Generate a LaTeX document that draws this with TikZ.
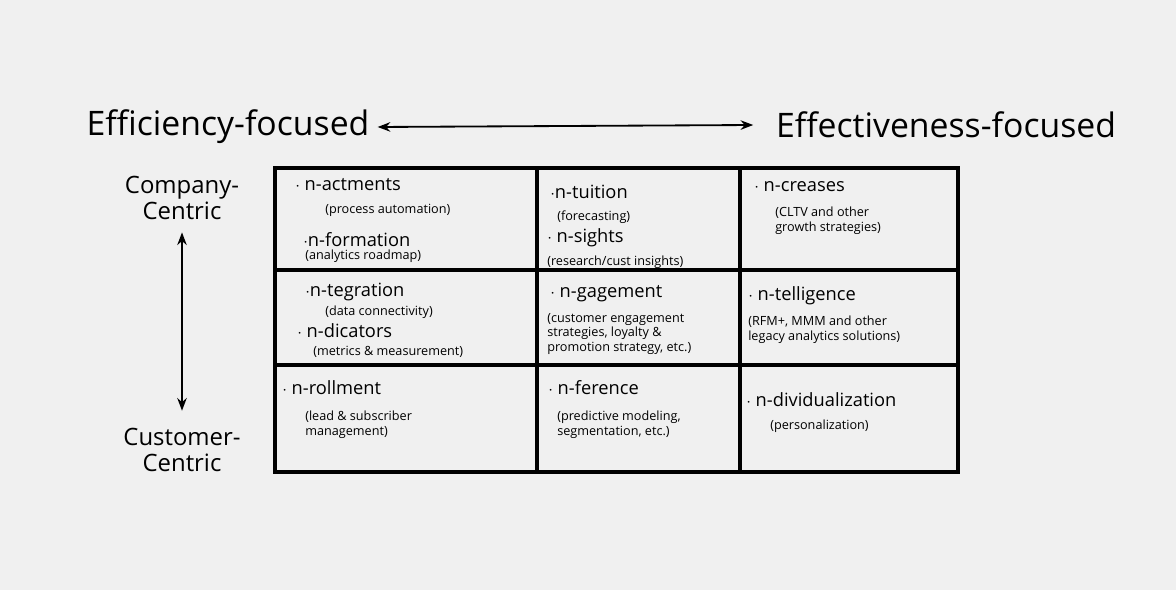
\documentclass[tikz,border=0pt]{standalone}
\usepackage{fontspec}
\setmainfont{Open Sans}
\usetikzlibrary{arrows.meta}
\tikzset{
  head/.style={font=\fontsize{24}{26}\selectfont, inner sep=0pt},
  side/.style={font=\fontsize{17}{19}\selectfont, inner sep=0pt, align=center},
  item/.style={font=\fontsize{13}{14}\selectfont, inner sep=0pt, anchor=west},
  note/.style={font=\fontsize{9}{10.5}\selectfont, inner sep=0pt, anchor=west, align=left},
  grid/.style={line width=2.2pt},
  twoway/.style={line width=1.3pt, {Stealth[length=9pt]}-{Stealth[length=9pt]}}
}
\begin{document}
\begin{tikzpicture}[x=0.025cm, y=-0.025cm]
  \fill[gray!12] (0, 0) rectangle (1176, 590);
  \useasboundingbox (0, 0) rectangle (1176, 590);

  % headings
  \node[head] (eff) at (228, 127) {Efficiency-focused};
  \node[head] (effv) at (946, 125) {Effectiveness-focused};
  \draw[twoway] (eff.east) ++(8, 0) coordinate (e1) -- ([xshift=-16pt]effv.west);
  \node[side] (comp) at (182, 198) {Company-\\Centric};
  \node[side] (cust) at (182, 450) {Customer-\\Centric};
  \draw[twoway] (comp.south) ++(0, 12) coordinate (c1) -- ([yshift=12pt]cust.north);

  % grid
  \draw[grid] (275, 168) rectangle (958, 472);
  \draw[grid] (537, 168) -- (537, 472);
  \draw[grid] (740, 168) -- (740, 472);
  \draw[grid] (275, 270) -- (958, 270);
  \draw[grid] (275, 365) -- (958, 365);

  % row 1
  \node[item] (a1) at (295, 185) {$\cdot$ n-actments};
  \node[note] (a1n) at (325, 210) {(process automation)};
  \node[item] (a2) at (303, 240) {$\cdot$n-formation};
  \node[note] (a2n) at (305, 256) {(analytics roadmap)};
  \node[item] (b1) at (550, 192) {$\cdot$n-tuition};
  \node[note] (b1n) at (557, 217) {(forecasting)};
  \node[item] (b2) at (547, 238) {$\cdot$ n-sights};
  \node[note] (b2n) at (547, 262) {(research/cust insights)};
  \node[item] (c1n) at (754, 187) {$\cdot$ n-creases};
  \node[note] (c1t) at (775, 221) {(CLTV and other\\growth strategies)};

  % row 2
  \node[item] (d1) at (305, 292) {$\cdot$n-tegration};
  \node[note] (d1n) at (325, 312) {(data connectivity)};
  \node[item] (d2) at (297, 331) {$\cdot$ n-dicators};
  \node[note] (d2n) at (313, 352) {(metrics \& measurement)};
  \node[item] (e2) at (550, 294) {$\cdot$ n-gagement};
  \node[note] (e2n) at (547, 334) {(customer engagement\\ strategies, loyalty \&\\promotion strategy, etc.)};
  \node[item] (f2) at (748, 296) {$\cdot$ n-telligence};
  \node[note] (f2n) at (748, 330) {(RFM+, MMM and other\\legacy analytics solutions)};

  % row 3
  \node[item] (g3) at (282, 388) {$\cdot$ n-rollment};
  \node[note] (g3n) at (305, 425) {(lead \& subscriber\\ management)};
  \node[item] (h3) at (548, 388) {$\cdot$ n-ference};
  \node[note] (h3n) at (557, 425) {(predictive modeling,\\segmentation, etc.)};
  \node[item] (i3) at (746, 400) {$\cdot$ n-dividualization};
  \node[note] (i3n) at (770, 426) {(personalization)};
\end{tikzpicture}
\end{document}
